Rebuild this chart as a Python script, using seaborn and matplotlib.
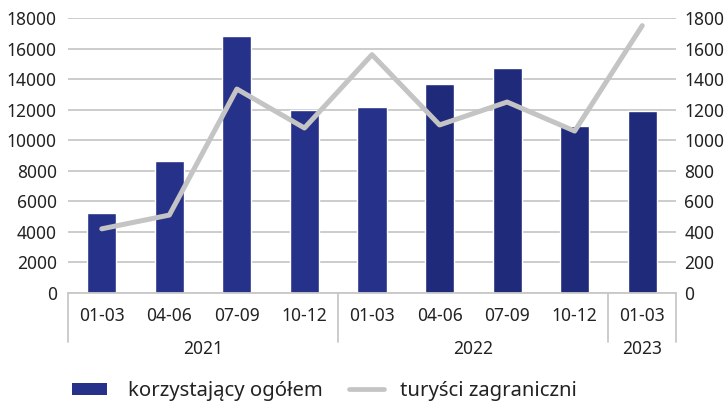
import numpy as np
import pandas as pd
import matplotlib
matplotlib.use("Agg")
import matplotlib.pyplot as plt
import matplotlib.transforms as mtransforms
from matplotlib.patches import Patch
from matplotlib.lines import Line2D
import seaborn as sns

# ---- data ----
years = ["2021", "2021", "2021", "2021", "2022", "2022", "2022", "2022", "2023"]
quarters = ["01-03", "04-06", "07-09", "10-12", "01-03", "04-06", "07-09", "10-12", "01-03"]
korzystajacy = [5250, 8650, 16800, 12000, 12200, 13700, 14700, 10900, 11900]
turysci = [420, 510, 1335, 1080, 1560, 1100, 1250, 1060, 1750]
year_labels = ["2021", "2022", "2023"]
series_names = ["korzystający ogółem", "turyści zagraniczni"]

bar_light = "#26318a"
bar_dark = "#1f2a7b"
line_col = "#c4c4c4"
grid_col = "#c8c8c8"
text_col = "#222222"

sns.set_theme(style="white")
plt.rcParams["font.family"] = ["Noto Sans", "DejaVu Sans"]
plt.rcParams["font.size"] = 12.5

keys = [f"{y} {q}" for y, q in zip(years, quarters)]
df = pd.DataFrame({"key": keys, "val": korzystajacy})
colors = [bar_light] * 5 + [bar_dark] * 4
palette = dict(zip(keys, colors))

fig = plt.figure(figsize=(7.25, 4.05), dpi=100)
ax = fig.add_axes([68 / 725, 1 - 293 / 405, (676 - 68) / 725, (293 - 18) / 405])

sns.barplot(data=df, x="key", y="val", hue="key", palette=palette, legend=False,
            width=0.43, saturation=1, ax=ax, zorder=2)
ax.set_xlim(-0.5, len(keys) - 0.5)
ax.set_ylim(0, 18000)
ax.set_yticks(np.arange(0, 18001, 2000))
ax.yaxis.grid(True, color=grid_col, linewidth=1.3, zorder=0)
ax.set_axisbelow(True)
ax.set_xlabel("")
ax.set_ylabel("")
for s in ["top", "left", "right"]:
    ax.spines[s].set_visible(False)
ax.spines["bottom"].set_color(grid_col)
ax.spines["bottom"].set_linewidth(1.3)
ax.tick_params(axis="y", length=0, pad=8, labelsize=12.5, labelcolor=text_col)
ax.set_xticks(range(len(keys)))
ax.set_xticklabels(quarters)
ax.tick_params(axis="x", length=0, pad=10, labelsize=12.5, labelcolor=text_col)

ax2 = ax.twinx()
sns.lineplot(x=np.arange(len(turysci)), y=turysci, ax=ax2, color=line_col,
             linewidth=3.6, zorder=3)
ax2.set_ylim(0, 1800)
ax2.set_yticks(np.arange(0, 1801, 200))
ax2.set_xlim(-0.5, len(keys) - 0.5)
for s in ax2.spines.values():
    s.set_visible(False)
ax2.tick_params(axis="y", length=0, pad=6, labelsize=12.5, labelcolor=text_col)
ax2.set_ylabel("")
ax2.grid(False)

# multi-level category axis: year separators and labels
trans = mtransforms.blended_transform_factory(ax.transData, ax.transAxes)
ax_h_px = 293 - 18
sep_depth = -49 / ax_h_px
year_y = -56 / ax_h_px
bounds = [-0.5]
for i in range(1, len(years)):
    if years[i] != years[i - 1]:
        bounds.append(i - 0.5)
bounds.append(len(years) - 0.5)
for b in bounds:
    ax.plot([b, b], [0, sep_depth], transform=trans, color=grid_col,
            linewidth=1.3, clip_on=False, zorder=1)
for yl, b0, b1 in zip(year_labels, bounds[:-1], bounds[1:]):
    ax.text((b0 + b1) / 2, year_y, yl, transform=trans, ha="center", va="center",
            fontsize=12.5, color=text_col)

# legend (two separate entries for exact spacing)
leg_fs = 14.6
leg_y = 1 - 391 / 405
h1 = Patch(facecolor=bar_light, edgecolor="none")
h2 = Line2D([0], [0], color=line_col, linewidth=3.4)
l1 = fig.legend([h1], [series_names[0]], loc="center left",
                bbox_to_anchor=(72 / 725, leg_y), frameon=False, fontsize=leg_fs,
                handlelength=1.72, handleheight=0.5, handletextpad=1.05,
                borderpad=0, borderaxespad=0, labelcolor=text_col)
l2 = fig.legend([h2], [series_names[1]], loc="center left",
                bbox_to_anchor=(349 / 725, leg_y), frameon=False, fontsize=leg_fs,
                handlelength=1.72, handletextpad=0.8,
                borderpad=0, borderaxespad=0, labelcolor=text_col)

fig.savefig("out.png", dpi=100)
